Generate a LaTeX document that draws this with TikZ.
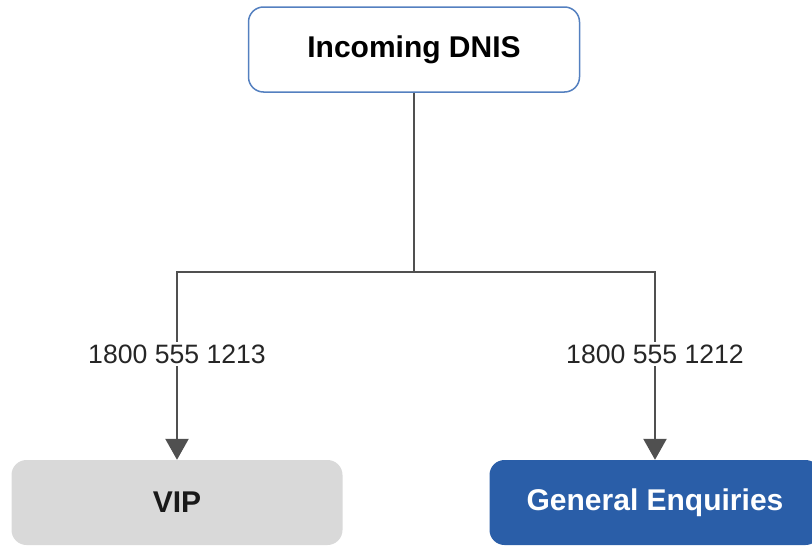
\documentclass[tikz,border=0pt]{standalone}
\usepackage{fontspec}
\setmainfont{Liberation Sans}
\usetikzlibrary{arrows.meta}
\definecolor{boxblue}{RGB}{84,128,192}
\definecolor{geblue}{RGB}{42,94,168}
\definecolor{vipgray}{RGB}{217,217,217}
\definecolor{wire}{RGB}{80,80,80}
\tikzset{
  card/.style={rounded corners=15pt, minimum width=331pt, minimum height=85pt,
    inner sep=0pt, font=\fontsize{30}{34}\selectfont\bfseries},
  wirestyle/.style={draw=wire, line width=2.4pt},
  tip/.style={-{Triangle[width=23pt,length=21pt]}},
  numlabel/.style={fill=white, inner sep=3pt, font=\fontsize{26.6}{30}\selectfont, text=black!85}
}
\begin{document}
\begin{tikzpicture}[x=1pt,y=1pt]
  \useasboundingbox (0,0) rectangle (812,-546);
  \clip (0,0) rectangle (812,-546);
  % top source node
  \node[card, draw=boxblue, line width=1.5pt, fill=white] (src) at (414,-49.5) {Incoming DNIS};
  % destinations
  \node[card, fill=vipgray, text=black!90] (vip) at (177,-502.5) {VIP};
  \node[card, fill=geblue, text=white] (ge) at (655,-502.5) {General Enquiries};
  % branching connectors
  \coordinate (split) at (src.south |- 0,-272);
  \draw[wirestyle] (src.south) -- (split);
  \draw[wirestyle, tip] (split) -| (vip.north);
  \draw[wirestyle, tip] (split) -| (ge.north);
  % number labels over the vertical branches
  \node[numlabel] (lvip) at (vip.north |- 0,-354) {1800 555 1213};
  \node[numlabel] (lge) at (ge.north |- 0,-354) {1800 555 1212};
\end{tikzpicture}
\end{document}
